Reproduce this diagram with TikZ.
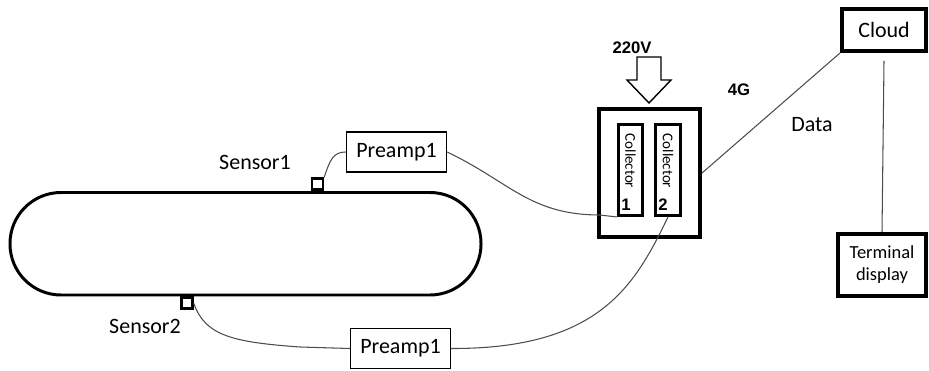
\documentclass[tikz,border=0pt]{standalone}
\usepackage{fontspec}
\setmainfont{Carlito}
\newfontfamily\headfont{Liberation Sans}

\begin{document}
\begin{tikzpicture}[
    x=0.02cm, y=-0.02cm,
    every node/.style={font=\fontsize{12.5}{15}\selectfont, inner sep=0pt},
    box/.style={draw, line width=0.8pt, minimum width=2cm, minimum height=0.8cm},
    heavybox/.style={draw, line width=2.3pt},
    slot/.style={draw, line width=1.7pt, minimum width=0.49cm, minimum height=1.82cm},
    sensor/.style={draw, line width=1.3pt, minimum size=0.22cm},
    wire/.style={draw, black!70, line width=0.6pt},
    tag/.style={font=\headfont\bfseries\fontsize{9.5}{11}\selectfont},
    slottext/.style={rotate=-90, font=\fontsize{8.5}{10}\selectfont}
]
\useasboundingbox (0,0) rectangle (929,371);

% tank
\draw[line width=1.7pt, rounded corners=1.02cm] (10,192.5) rectangle (481,295);

\node[sensor] (s1) at (317.5,184) {};
\node[sensor] (s2) at (187,303) {};
\node (s1lbl) at (255,162) {Sensor1};
\node (s2lbl) at (145,326) {Sensor2};

\node[box] (pa) at (396.5,152) {Preamp1};
\node[box] (pb) at (400.5,348.5) {Preamp1};

% collector unit
\node[heavybox, minimum width=2.02cm, minimum height=2.56cm] (col) at (649.5,173) {};
\node[slot] (c1) at (630.5,170) {};
\node[slot] (c2) at (668,170) {};
\node[slottext] (c1txt) at (630.5,161) {Collector};
\node[slottext] (c2txt) at (668,161) {Collector};
\node[tag] (c1num) at (626,205) {1};
\node[tag] (c2num) at (663,205) {2};

\draw[line width=0.8pt] (637,57) -- (661,57) -- (661,80) -- (671,80) -- (649,103)
    -- (627,80) -- (637,80) -- cycle;
\node[tag] (pwr) at (632,48) {220V};

\node[heavybox, minimum width=1.68cm, minimum height=0.84cm] (cloud) at (884,30) {Cloud};
\node[heavybox, minimum width=1.76cm, minimum height=1.24cm, align=center,
    font=\fontsize{10.5}{12.5}\selectfont] (term) at (882,265) {Terminal\\display};
\node[tag] (net) at (739,90) {4G};
\node (data) at (812,125) {Data};

% wiring
\draw[wire] (s1.north east) .. controls (330,160) and (333,152) .. (pa.west);
\draw[wire] (pa.east) .. controls (510,182) and (530,215) .. (600,215) -- (c1.south west);
\draw[wire] (c2.south) .. controls (635,285) and (600,349) .. (pb.east);
\draw[wire] (s2.east) .. controls (205,335) and (230,342) .. (300,347) -- (pb.west);
\draw[wire] (col.east) -- (cloud.south west);
\draw[wire] ([yshift=-4.5pt]cloud.south) -- (term.north);
\end{tikzpicture}
\end{document}
